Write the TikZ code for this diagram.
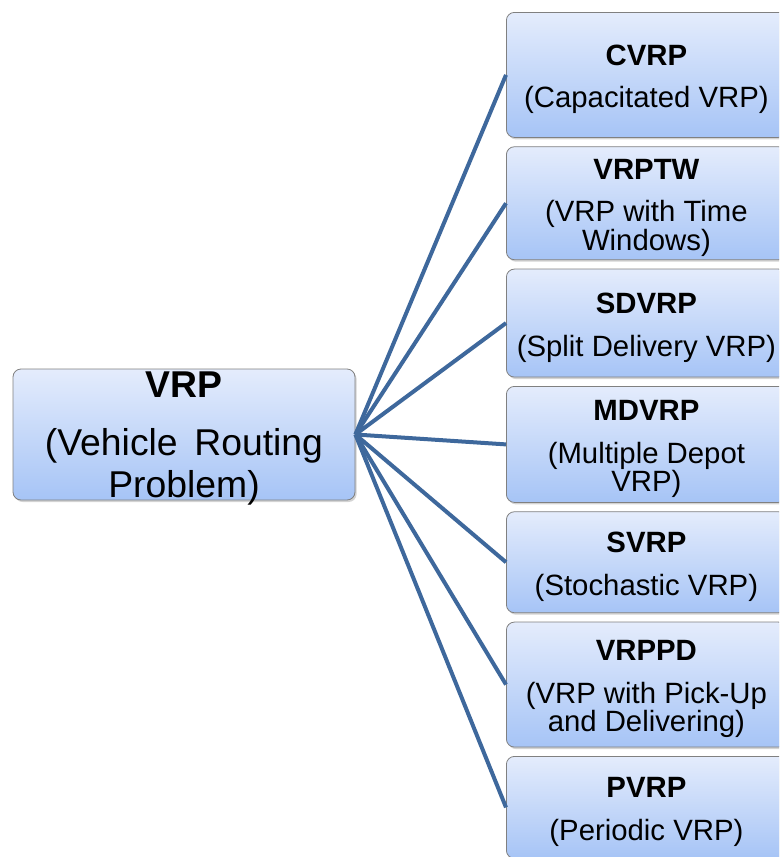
\documentclass[tikz,border=0pt]{standalone}
\usepackage{fontspec}
\setmainfont{Liberation Sans}
\usepackage{tikz}
\usetikzlibrary{positioning, shadows}

\definecolor{boxtop}{RGB}{228,236,252}
\definecolor{boxbottom}{RGB}{166,196,246}
\definecolor{boxline}{RGB}{128,128,128}
\definecolor{linkblue}{RGB}{62,104,156}

\newcommand{\topstrut}[1]{\rule{0pt}{#1}}

\begin{document}
\begin{tikzpicture}[x=0.75pt, y=-0.75pt, node distance=6.4pt]
        % Define block styles
        \tikzstyle{block} = [rectangle, draw=boxline, line width=0.6pt, top color=boxtop, bottom color=boxbottom, rounded corners=6pt, align=center, inner sep=0pt, drop shadow={shadow xshift=1.2pt, shadow yshift=-1.5pt, opacity=0.35}]
        \tikzstyle{mainblock} = [block, minimum width=256.5pt, minimum height=98.25pt, inner ysep=-6pt, font=\fontsize{28}{31.5}\selectfont]
        \tikzstyle{typeblock} = [block, minimum width=210pt, font=\fontsize{22}{21.4}\selectfont]
        \tikzstyle{link} = [draw=linkblue, line width=3pt]

        \clip (0,0) rectangle (779,857);

        % Place main node
        \node [mainblock] (vrp) at (184,434.5) {\topstrut{26pt}\textbf{VRP}\\[12pt](Vehicle\, Routing\\Problem)};

        % Place variant blocks
        \node [typeblock, anchor=north west, minimum height=93.75pt] (cvrp) at (506,12) {\topstrut{22pt}\textbf{CVRP}\\[10.6pt](Capacitated VRP)};
        \node [typeblock, below=of cvrp, minimum height=84.75pt] (vrptw) {\topstrut{22pt}\textbf{VRPTW}\\[10.6pt](VRP with Time\\Windows)};
        \node [typeblock, below=of vrptw, minimum height=81pt] (sdvrp) {\topstrut{22pt}\textbf{SDVRP}\\[10.6pt](Split Delivery VRP)};
        \node [typeblock, below=of sdvrp, minimum height=87pt] (mdvrp) {\topstrut{22pt}\textbf{MDVRP}\\[10.6pt](Multiple Depot\\VRP)};
        \node [typeblock, below=of mdvrp, minimum height=75.75pt] (svrp) {\topstrut{22pt}\textbf{SVRP}\\[10.6pt](Stochastic VRP)};
        \node [typeblock, below=of svrp, minimum height=93.75pt] (vrppd) {\topstrut{22pt}\textbf{VRPPD}\\[10.6pt](VRP with Pick-Up\\and Delivering)};
        \node [typeblock, below=of vrppd, minimum height=76.5pt] (pvrp) {\topstrut{22pt}\textbf{PVRP}\\[10.6pt](Periodic VRP)};

        % Draw connections
        \foreach \variant in {cvrp, vrptw, sdvrp, mdvrp, svrp, vrppd, pvrp}
            \draw [link] (vrp.east) -- (\variant.west);

    \end{tikzpicture}
\end{document}
